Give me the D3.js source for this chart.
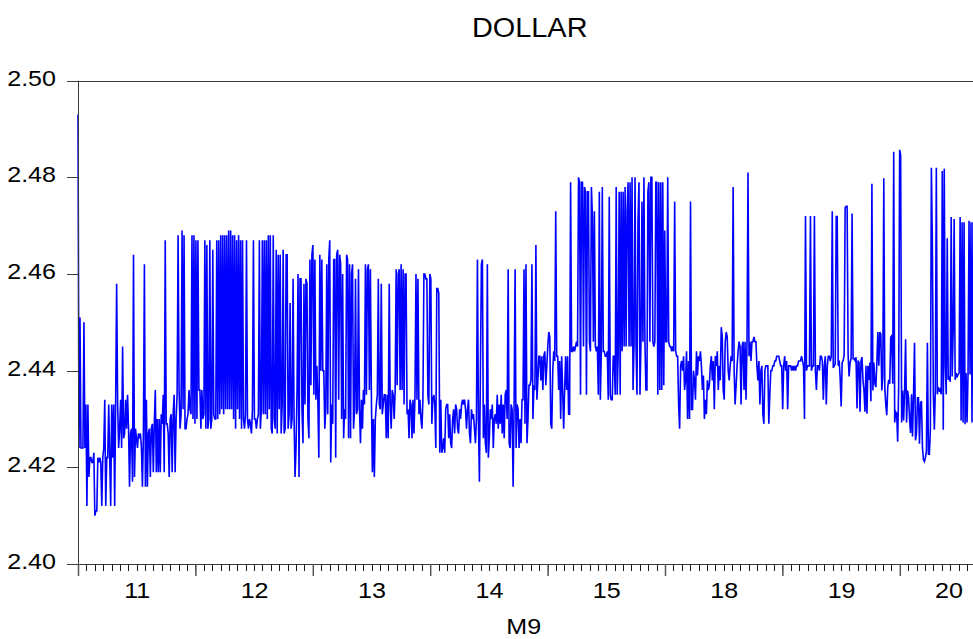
<!DOCTYPE html>
<html>
<head>
<meta charset="utf-8">
<script src="https://cdn.jsdelivr.net/npm/d3@7"></script>
<style>
  body { margin: 0; background: #ffffff; }
  svg { display: block; }
</style>
</head>
<body>
<svg id="chart" width="973" height="639"></svg>
<script>
// Period labels along the bottom axis (one per major interval)
const periodLabels = ["11", "12", "13", "14", "15", "18", "19", "20"];
// Value-axis ticks
const yTicks = [2.40, 2.42, 2.44, 2.46, 2.48, 2.50];

// DOLLAR series, in observation order, split into consecutive stretches
const dollar11 = [
  2.493, 2.424, 2.451, 2.424, 2.424, 2.424, 2.450, 2.424, 2.433, 2.412,
  2.433, 2.418, 2.422, 2.422, 2.421, 2.421, 2.423, 2.410, 2.411, 2.411,
  2.422, 2.421, 2.422, 2.421, 2.412, 2.422, 2.424, 2.434, 2.412, 2.422,
  2.422, 2.433, 2.422, 2.412, 2.433, 2.422, 2.433, 2.412, 2.434, 2.458,
  2.433, 2.424, 2.428, 2.434, 2.424, 2.445, 2.426, 2.427, 2.434, 2.428,
  2.435, 2.428, 2.416, 2.427, 2.428, 2.417, 2.464, 2.418, 2.428, 2.426,
  2.424, 2.427, 2.426, 2.427, 2.424, 2.416, 2.427, 2.462, 2.416, 2.434,
  2.416, 2.427, 2.428, 2.418, 2.428, 2.429, 2.419, 2.429, 2.436, 2.419,
  2.430, 2.419, 2.430, 2.419, 2.431, 2.429, 2.435, 2.419, 2.467, 2.429,
  2.429, 2.427, 2.418, 2.430, 2.431, 2.419, 2.431, 2.435, 2.419, 2.430,
  2.435, 2.468, 2.436, 2.428, 2.431, 2.469, 2.432, 2.468, 2.428, 2.428,
  2.430, 2.431, 2.436, 2.432, 2.431, 2.468, 2.430, 2.468, 2.429, 2.467,
  2.430, 2.467, 2.436, 2.436, 2.428, 2.436, 2.430, 2.431, 2.467, 2.428,
  2.466, 2.428, 2.430, 2.467, 2.428, 2.430, 2.465, 2.431, 2.430, 2.430,
  2.467, 2.430, 2.467, 2.431, 2.468, 2.432, 2.468, 2.431, 2.468, 2.432,
  2.468, 2.432, 2.469, 2.432, 2.469, 2.432, 2.468, 2.430, 2.468, 2.428,
  2.467, 2.432, 2.468, 2.430, 2.467, 2.428, 2.467, 2.430, 2.428, 2.431,
  2.467, 2.430, 2.428, 2.430, 2.429, 2.427, 2.432, 2.467, 2.430, 2.430,
  2.428, 2.430, 2.431, 2.467, 2.428, 2.432, 2.467, 2.431, 2.467, 2.431
];
const dollar12 = [
  2.467, 2.430, 2.468, 2.432, 2.468, 2.428, 2.427, 2.468, 2.430, 2.428,
  2.465, 2.427, 2.464, 2.432, 2.464, 2.427, 2.433, 2.465, 2.427, 2.428,
  2.464, 2.464, 2.428, 2.431, 2.454, 2.428, 2.430, 2.459, 2.430, 2.418,
  2.424, 2.436, 2.460, 2.418, 2.459, 2.459, 2.432, 2.425, 2.458, 2.433,
  2.459, 2.458, 2.430, 2.426, 2.463, 2.437, 2.464, 2.466, 2.435, 2.463,
  2.434, 2.441, 2.434, 2.422, 2.464, 2.440, 2.463, 2.440, 2.440, 2.428,
  2.432, 2.462, 2.431, 2.463, 2.467, 2.421, 2.433, 2.429, 2.463, 2.463,
  2.422, 2.464, 2.465, 2.434, 2.464, 2.462, 2.430, 2.460, 2.426, 2.432,
  2.430, 2.464, 2.463, 2.426, 2.462, 2.426, 2.460, 2.462, 2.428, 2.432,
  2.459, 2.431, 2.432, 2.461, 2.432, 2.425, 2.434, 2.428, 2.436, 2.433,
  2.462, 2.435, 2.461, 2.462, 2.436, 2.461, 2.435, 2.419, 2.430, 2.418,
  2.430, 2.433, 2.435, 2.459, 2.433, 2.432, 2.458, 2.431, 2.433, 2.435,
  2.435, 2.426, 2.435, 2.426, 2.458, 2.433, 2.428, 2.436, 2.435, 2.430,
  2.436, 2.461, 2.437, 2.460, 2.461, 2.436, 2.462, 2.436, 2.461, 2.433,
  2.460, 2.460, 2.431, 2.432, 2.426, 2.434, 2.433, 2.426, 2.434, 2.427,
  2.435, 2.460, 2.434, 2.459, 2.431, 2.434, 2.430, 2.428, 2.434, 2.460,
  2.460, 2.459, 2.459, 2.435, 2.433, 2.460, 2.459, 2.429, 2.434, 2.435,
  2.433, 2.424, 2.457, 2.457, 2.456, 2.423, 2.434, 2.423, 2.424, 2.426,
  2.423, 2.432, 2.433, 2.433, 2.426, 2.431, 2.425, 2.424, 2.430, 2.432
];
const dollar14 = [
  2.427, 2.433, 2.432, 2.428, 2.427, 2.432, 2.430, 2.433, 2.434, 2.433,
  2.434, 2.432, 2.428, 2.432, 2.434, 2.427, 2.425, 2.432, 2.430, 2.431,
  2.428, 2.425, 2.430, 2.463, 2.430, 2.417, 2.440, 2.462, 2.463, 2.426,
  2.433, 2.425, 2.423, 2.462, 2.422, 2.426, 2.432, 2.430, 2.433, 2.424,
  2.430, 2.431, 2.429, 2.435, 2.428, 2.433, 2.429, 2.435, 2.427, 2.433,
  2.426, 2.435, 2.436, 2.430, 2.461, 2.425, 2.424, 2.433, 2.432, 2.416,
  2.433, 2.461, 2.424, 2.433, 2.432, 2.424, 2.430, 2.425, 2.434, 2.434,
  2.461, 2.429, 2.462, 2.425, 2.430, 2.437, 2.437, 2.438, 2.462, 2.430,
  2.437, 2.436, 2.466, 2.434, 2.438, 2.443, 2.443, 2.438, 2.443, 2.436,
  2.443, 2.444, 2.437, 2.441, 2.445, 2.448, 2.447, 2.429, 2.428, 2.440,
  2.444, 2.442, 2.473, 2.443, 2.443, 2.436, 2.442, 2.430, 2.443, 2.436,
  2.428, 2.436, 2.443, 2.436, 2.443, 2.431, 2.431, 2.479, 2.444, 2.444,
  2.445, 2.444, 2.445, 2.446, 2.445, 2.480, 2.479, 2.435, 2.479, 2.479,
  2.445, 2.478, 2.477, 2.435, 2.477, 2.477, 2.446, 2.444, 2.478, 2.472,
  2.446, 2.473, 2.445, 2.444, 2.445, 2.435, 2.477, 2.434, 2.444, 2.478,
  2.444, 2.444, 2.443, 2.443, 2.444, 2.434, 2.476, 2.435, 2.434, 2.434,
  2.443, 2.443, 2.435, 2.478, 2.435, 2.443, 2.477, 2.435, 2.477, 2.444,
  2.477, 2.445, 2.478, 2.445, 2.473, 2.479, 2.445, 2.479, 2.445, 2.480,
  2.436, 2.445, 2.480, 2.445, 2.435, 2.471, 2.479, 2.435, 2.446, 2.475,
  2.446, 2.480
];
const dollar18 = [
  2.446, 2.436, 2.436, 2.477, 2.479, 2.446, 2.480, 2.480, 2.446, 2.445,
  2.446, 2.479, 2.479, 2.435, 2.479, 2.436, 2.479, 2.436, 2.479, 2.437,
  2.469, 2.446, 2.446, 2.480, 2.446, 2.445, 2.445, 2.444, 2.445, 2.444,
  2.475, 2.444, 2.443, 2.443, 2.433, 2.428, 2.441, 2.442, 2.440, 2.443,
  2.436, 2.438, 2.444, 2.430, 2.442, 2.430, 2.475, 2.432, 2.432, 2.440,
  2.438, 2.434, 2.444, 2.439, 2.443, 2.442, 2.444, 2.441, 2.436, 2.439,
  2.430, 2.434, 2.431, 2.438, 2.436, 2.437, 2.441, 2.443, 2.438, 2.442,
  2.432, 2.443, 2.441, 2.444, 2.436, 2.441, 2.438, 2.449, 2.447, 2.436,
  2.434, 2.446, 2.448, 2.447, 2.440, 2.438, 2.441, 2.443, 2.442, 2.478,
  2.440, 2.433, 2.437, 2.441, 2.444, 2.446, 2.445, 2.433, 2.445, 2.446,
  2.436, 2.446, 2.434, 2.446, 2.481, 2.443, 2.446, 2.442, 2.446, 2.446,
  2.447, 2.446, 2.446, 2.441, 2.438, 2.442, 2.433, 2.440, 2.441, 2.431,
  2.429, 2.440, 2.441, 2.441, 2.441, 2.429, 2.435, 2.440, 2.440, 2.441,
  2.441, 2.442, 2.442, 2.443, 2.443, 2.443, 2.442, 2.441, 2.441, 2.432,
  2.441, 2.443, 2.440, 2.442, 2.432, 2.441, 2.441, 2.441, 2.440, 2.441,
  2.440, 2.441, 2.440, 2.441, 2.441, 2.442, 2.442, 2.442, 2.443, 2.442,
  2.441, 2.430, 2.472, 2.440, 2.441, 2.441, 2.441, 2.472, 2.440, 2.441,
  2.441, 2.472, 2.440, 2.436, 2.441, 2.441, 2.440, 2.443, 2.443, 2.442,
  2.434, 2.441, 2.443, 2.433, 2.441, 2.443, 2.443, 2.442, 2.443, 2.473
];
const dollar20 = [
  2.4406, 2.4410, 2.4414, 2.4719, 2.4719, 2.4410, 2.4421, 2.4384, 2.4326, 2.4417,
  2.4421, 2.4432, 2.4737, 2.4740, 2.4740, 2.4432, 2.4388, 2.4417, 2.4425, 2.4725,
  2.4425, 2.4425, 2.4421, 2.4428, 2.4322, 2.4421, 2.4417, 2.4315, 2.4421, 2.4428,
  2.4381, 2.4359, 2.4315, 2.4410, 2.4311, 2.4410, 2.4381, 2.4417, 2.4337, 2.4787,
  2.4359, 2.4417, 2.4373, 2.4366, 2.4417, 2.4480, 2.4410, 2.4480, 2.4476, 2.4359,
  2.4388, 2.4798, 2.4366, 2.4330, 2.4308, 2.4366, 2.4381, 2.4373, 2.4469, 2.4472,
  2.4373, 2.4853, 2.4293, 2.4315, 2.4311, 2.4253, 2.4366, 2.4857, 2.4846, 2.4293,
  2.4359, 2.4297, 2.4359, 2.4465, 2.4293, 2.4359, 2.4344, 2.4300, 2.4271, 2.4351,
  2.4264, 2.4351, 2.4458, 2.4256, 2.4271, 2.4344, 2.4344, 2.4249, 2.4333, 2.4337,
  2.4242, 2.4216, 2.4212, 2.4220, 2.4234, 2.4458, 2.4227, 2.4227, 2.4278, 2.4820,
  2.4663, 2.4351, 2.4278, 2.4359, 2.4820, 2.4351, 2.4366, 2.4359, 2.4362, 2.4351,
  2.4813, 2.4278, 2.4818, 2.4410, 2.4351, 2.4674, 2.4381, 2.4388, 2.4377, 2.4718,
  2.4388, 2.4483, 2.4714, 2.4381, 2.4395, 2.4388, 2.4392, 2.4395, 2.4718, 2.4297,
  2.4707, 2.4293, 2.4707, 2.4289, 2.4395, 2.4293, 2.4395, 2.4710, 2.4392, 2.4707,
  2.4293, 2.4707
];
const dollar = [].concat(dollar11, dollar12, dollar14, dollar18, dollar20);

// ---- layout ----
const plotLeft = 78, plotTop = 80.7, plotBottom = 564;
const periodWidth = 117.4;       // width of one labelled period on the axis
const plotRight = 997;           // frame continues past the window edge
const lineEnd = 973;
const minorPerPeriod = 14;
const font = "'Liberation Sans', Arial, Helvetica, sans-serif";
const axisColor = "#3a3a3a";

const svg = d3.select("#chart");

const y = d3.scaleLinear().domain([2.40, 2.50]).range([plotBottom, plotTop]);
const xPeriod = d3.scaleLinear().domain([0, 1]).range([plotLeft, plotLeft + periodWidth]);
const xObs = d3.scaleLinear().domain([0, dollar.length - 1]).range([plotLeft, lineEnd]);

// frame: top edge
svg.append("line")
  .attr("x1", plotLeft).attr("x2", plotRight)
  .attr("y1", Math.round(plotTop) + 0.5).attr("y2", Math.round(plotTop) + 0.5)
  .attr("stroke", axisColor).attr("stroke-width", 1);

// series line
const line = d3.line()
  .x((d, i) => xObs(i))
  .y(d => y(d));

svg.append("path")
  .datum(dollar)
  .attr("fill", "none")
  .attr("stroke", "#0000ff")
  .attr("stroke-width", 1.6)
  .attr("stroke-linejoin", "miter")
  .attr("d", line);

// y axis
const yAxisG = svg.append("g")
  .attr("transform", `translate(${plotLeft},0)`)
  .call(d3.axisLeft(y)
    .tickValues(yTicks)
    .tickFormat(d3.format(".2f"))
    .tickSize(11)
    .tickSizeOuter(0)
    .tickPadding(11));
yAxisG.select(".domain").attr("stroke", axisColor);
yAxisG.selectAll(".tick line").attr("stroke", axisColor).attr("shape-rendering", "crispEdges");
yAxisG.selectAll(".tick text")
  .attr("fill", "#000")
  .style("font-family", font)
  .style("font-size", "22px")
  .attr("dy", "0.2em")
  .each(function () {
    const t = d3.select(this);
    const x0 = +t.attr("x");
    t.attr("x", 0).attr("transform", `translate(${x0},0) scale(1.14,1)`);
  });

// x axis baseline
svg.append("line")
  .attr("x1", plotLeft).attr("x2", plotRight)
  .attr("y1", plotBottom + 0.5).attr("y2", plotBottom + 0.5)
  .attr("stroke", axisColor).attr("stroke-width", 1);

// x axis: minor ticks (14 per period)
const nPeriods = (plotRight - plotLeft) / periodWidth;
const minorVals = d3.range(0, Math.floor(nPeriods * minorPerPeriod) + 1).map(k => k / minorPerPeriod);
svg.append("g")
  .attr("class", "minor-ticks")
  .selectAll("line")
  .data(minorVals)
  .join("line")
  .attr("x1", d => Math.round(xPeriod(d)) + 0.5)
  .attr("x2", d => Math.round(xPeriod(d)) + 0.5)
  .attr("y1", plotBottom + 1)
  .attr("y2", plotBottom + 7)
  .attr("stroke", "#1a1a1a")
  .attr("stroke-width", 1);

// x axis: major ticks at period boundaries
const majorVals = d3.range(0, Math.floor(nPeriods) + 1);
const xMajorG = svg.append("g")
  .attr("transform", `translate(0,${plotBottom})`)
  .call(d3.axisBottom(xPeriod).tickValues(majorVals).tickSize(12).tickSizeOuter(0).tickFormat(() => ""));
xMajorG.select(".domain").remove();
xMajorG.selectAll(".tick line").attr("stroke", "#555").attr("stroke-width", 1.5);

// x axis: period labels centred in each (visible part of the) period
const labelPos = periodLabels.map((lab, i) => (i + Math.min(i + 1, nPeriods)) / 2);
const xLabelG = svg.append("g")
  .attr("transform", `translate(0,${plotBottom})`)
  .call(d3.axisBottom(xPeriod)
    .tickValues(labelPos)
    .tickSize(0)
    .tickPadding(18.7)
    .tickFormat((d, i) => periodLabels[i]));
xLabelG.select(".domain").remove();
xLabelG.selectAll(".tick text")
  .attr("fill", "#000")
  .style("font-family", font)
  .style("font-size", "22px")
  .attr("transform", "scale(1.14,1)");

// left frame edge
svg.append("line")
  .attr("x1", plotLeft + 0.5).attr("x2", plotLeft + 0.5)
  .attr("y1", plotTop).attr("y2", plotBottom)
  .attr("stroke", axisColor).attr("stroke-width", 1);

// title
svg.append("text")
  .attr("x", 0).attr("y", 0)
  .attr("transform", "translate(529.7,36.7) scale(1.07,1)")
  .attr("text-anchor", "middle")
  .style("font-family", font)
  .style("font-size", "27px")
  .attr("fill", "#000")
  .text("DOLLAR");

// x axis title
svg.append("text")
  .attr("x", 0).attr("y", 0)
  .attr("transform", "translate(523.7,634) scale(1.14,1)")
  .attr("text-anchor", "middle")
  .style("font-family", font)
  .style("font-size", "22px")
  .attr("fill", "#000")
  .text("M9");
</script>
</body>
</html>
